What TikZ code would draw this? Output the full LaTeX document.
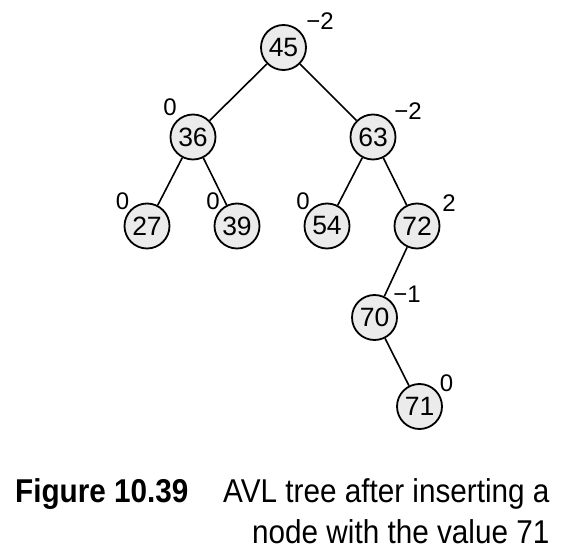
\documentclass[tikz,border=0pt]{standalone}
\usepackage{fontspec}
\setmainfont{Liberation Sans}
\newfontfamily\capfont[FakeStretch=0.9]{Liberation Sans}
\begin{document}
\begin{tikzpicture}[x=1pt,y=-1pt,
  tnode/.style={circle,draw=black,line width=1.8pt,fill=black!8,minimum size=45pt,inner sep=0pt,font=\fontsize{26.5}{29}\selectfont},
  bal/.style={inner sep=0pt,font=\fontsize{24}{27}\selectfont},
  edge/.style={line width=1.6pt},
  captxt/.style={anchor=base west,inner sep=0pt,font=\capfont\fontsize{33}{36}\selectfont}]
\useasboundingbox (0,0) rectangle (573,556);
\node[tnode] (n45) at (283.5,47.5) {45};
\node[tnode] (n36) at (193,137) {36};
\node[tnode] (n63) at (373,137) {63};
\node[tnode] (n27) at (147,226) {27};
\node[tnode] (n39) at (237,226) {39};
\node[tnode] (n54) at (327,226) {54};
\node[tnode] (n72) at (417,226) {72};
\node[tnode] (n70) at (374.5,317.5) {70};
\node[tnode] (n71) at (419.5,406.5) {71};
\draw[edge] (n45) -- (n36);
\draw[edge] (n45) -- (n63);
\draw[edge] (n36) -- (n27);
\draw[edge] (n36) -- (n39);
\draw[edge] (n63) -- (n54);
\draw[edge] (n63) -- (n72);
\draw[edge] (n72) -- (n70);
\draw[edge] (n70) -- (n71);
\node[bal] (b45) at (320,21) {−2};
\node[bal] (b36) at (170,107) {0};
\node[bal] (b63) at (408,111) {−2};
\node[bal] (b27) at (122.5,201) {0};
\node[bal] (b39) at (213,201) {0};
\node[bal] (b54) at (303,201) {0};
\node[bal] (b72) at (449,203) {2};
\node[bal] (b70) at (407,294) {−1};
\node[bal] (b71) at (446.5,383.5) {0};
\node[captxt,font=\capfont\fontsize{33}{36}\selectfont\bfseries] (fig) at (15,502) {Figure 10.39};
\node[captxt] (cap1) at (223,502) {AVL tree after inserting a};
\node[captxt] (cap2) at (252,543) {node with the value 71};
\end{tikzpicture}
\end{document}
